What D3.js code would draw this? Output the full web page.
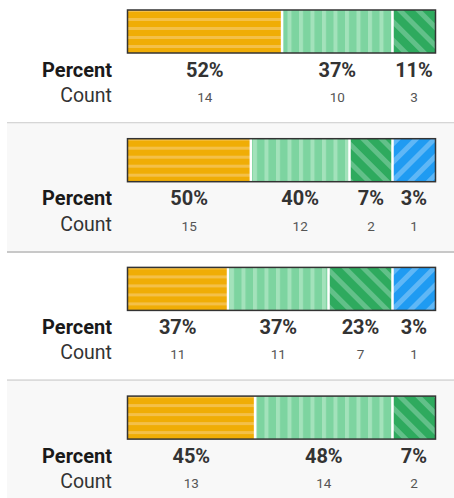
<!DOCTYPE html>
<html>
<head>
<meta charset="utf-8">
<script src="https://cdn.jsdelivr.net/npm/d3@7/dist/d3.min.js"></script>
<style>
  html, body { margin: 0; padding: 0; background: #fff; }
  svg { display: block; font-family: Roboto, "Noto Sans", Arial, sans-serif; }
</style>
</head>
<body>
<svg id="chart" width="454" height="498"></svg>
<script>
// ---- Data ----
const groups = ["Group 1", "Group 2", "Group 3", "Group 4"];
const categories = ["Option A", "Option B", "Option C", "Option D"];
const optionACounts = [14, 15, 11, 13];
const optionBCounts = [10, 12, 11, 14];
const optionCCounts = [3, 2, 7, 2];
const optionDCounts = [0, 1, 1, 0];
const rowLabels = ["Percent", "Count"];

const seriesCounts = [optionACounts, optionBCounts, optionCCounts, optionDCounts];

// ---- Layout ----
const W = 454, H = 498;
const panelH = 128.7;
const barX0 = 127.5, barW = 308, barTop = 10, barH = 43;
const minSegW = 43;
const labelX = 112;

const svg = d3.select("#chart");
const defs = svg.append("defs");

function stripePattern(id, base, size, angle) {
  const p = defs.append("pattern")
    .attr("id", id)
    .attr("patternUnits", "userSpaceOnUse")
    .attr("width", size).attr("height", size);
  if (angle !== null) p.attr("patternTransform", `rotate(${angle})`);
  p.append("rect").attr("width", size).attr("height", size).attr("fill", base);
  return p;
}
// orange: horizontal stripes
const pA = stripePattern("patA", "#f0ad05", 9, null);
pA.append("rect").attr("x", 0).attr("y", 0).attr("width", 9).attr("height", 3).attr("fill", "#f4c048");
// light green: vertical stripes
const pB = stripePattern("patB", "#7dd4a0", 11.5, null);
pB.append("rect").attr("x", 0).attr("y", 0).attr("width", 4).attr("height", 11.5).attr("fill", "#a3e2bb");
// dark green: "\" diagonal
const pC = stripePattern("patC", "#2eaa5e", 13, -45);
pC.append("rect").attr("x", 0).attr("y", 0).attr("width", 5).attr("height", 13).attr("fill", "#62c089");
// blue: "/" diagonal
const pD = stripePattern("patD", "#1f9bf2", 13, 45);
pD.append("rect").attr("x", 0).attr("y", 0).attr("width", 5).attr("height", 13).attr("fill", "#5fb7f6");

const fills = ["url(#patA)", "url(#patB)", "url(#patC)", "url(#patD)"];

const panelY = d3.scaleLinear().domain([0, 1]).range([0, panelH]);

groups.forEach((g, gi) => {
  const y0 = panelY(gi);
  const gEl = svg.append("g").attr("transform", `translate(0,${y0})`);

  if (gi % 2 === 1) {
    gEl.append("rect").attr("x", 7).attr("y", -5.5).attr("width", W - 7)
      .attr("height", panelH).attr("fill", "#f8f8f8");
  }

  const counts = seriesCounts.map(s => s[gi]);
  const total = d3.sum(counts);
  const segs = counts.map((c, ci) => ({ c, ci })).filter(d => d.c > 0);

  // width allocation: small segments get a minimum width, the rest share proportionally
  let fixed = new Set();
  for (let iter = 0; iter < 5; iter++) {
    const freeTotal = d3.sum(segs.filter(d => !fixed.has(d.ci)), d => d.c);
    const freeW = barW - fixed.size * minSegW;
    const sc = d3.scaleLinear().domain([0, freeTotal]).range([0, freeW]);
    let changed = false;
    segs.forEach(d => {
      if (fixed.has(d.ci)) d.w = minSegW;
      else {
        d.w = sc(d.c);
        if (d.w < minSegW) { fixed.add(d.ci); changed = true; }
      }
    });
    if (!changed) break;
  }
  let acc = barX0;
  segs.forEach(d => { d.x = acc; acc += d.w; });

  const bar = gEl.append("g");
  bar.selectAll("rect.seg").data(segs).join("rect")
    .attr("class", "seg")
    .attr("x", d => d.x).attr("y", barTop)
    .attr("width", d => d.w).attr("height", barH)
    .attr("fill", d => fills[d.ci]);
  bar.selectAll("line.sep").data(segs.slice(1)).join("line")
    .attr("class", "sep")
    .attr("x1", d => d.x).attr("x2", d => d.x)
    .attr("y1", barTop).attr("y2", barTop + barH)
    .attr("stroke", "#fff").attr("stroke-width", 2.5);
  bar.append("rect")
    .attr("x", barX0).attr("y", barTop).attr("width", barW).attr("height", barH)
    .attr("fill", "none").attr("stroke", "#333").attr("stroke-width", 1.5);

  gEl.append("text").attr("x", labelX).attr("y", 76.5)
    .attr("text-anchor", "end").attr("font-size", 20).attr("font-weight", 700)
    .attr("fill", "#1a1a1a").text(rowLabels[0]);
  gEl.append("text").attr("x", labelX).attr("y", 102)
    .attr("text-anchor", "end").attr("font-size", 19.5).attr("font-weight", 400)
    .attr("fill", "#333").text(rowLabels[1]);

  gEl.selectAll("text.pct").data(segs).join("text")
    .attr("class", "pct")
    .attr("x", d => d.x + d.w / 2).attr("y", 76.5)
    .attr("text-anchor", "middle").attr("font-size", 20).attr("font-weight", 700)
    .attr("fill", "#333")
    .text(d => Math.round(d.c / total * 100) + "%");
  gEl.selectAll("text.cnt").data(segs).join("text")
    .attr("class", "cnt")
    .attr("x", d => d.x + d.w / 2).attr("y", 102)
    .attr("text-anchor", "middle").attr("font-size", 13.5).attr("font-weight", 400)
    .attr("fill", "#555")
    .text(d => d.c);

  if (gi < groups.length - 1) {
    gEl.append("line").attr("x1", 7).attr("x2", W)
      .attr("y1", 123.2).attr("y2", 123.2)
      .attr("stroke", "#c8c8c8").attr("stroke-width", 2);
  }
});
</script>
</body>
</html>
